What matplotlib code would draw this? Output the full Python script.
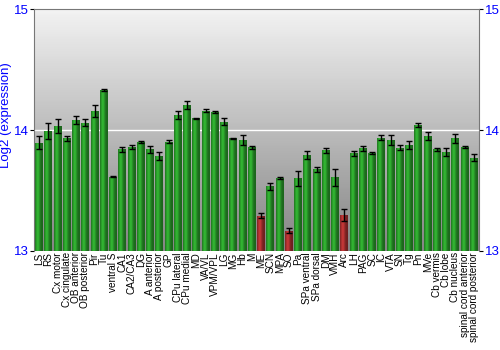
import matplotlib
matplotlib.use("Agg")
import matplotlib.pyplot as plt
import numpy as np

plt.rcParams['font.family'] = ['Liberation Sans', 'DejaVu Sans']

# regions
labels = ['LS', 'RS', 'Cx motor', 'Cx cingulate', 'OB anterior', 'OB posterior', 'Pir', 'Tu',
          'ventral S', 'CA1', 'CA2/CA3', 'DG', 'A anterior', 'A posterior', 'GP', 'CPu lateral',
          'CPu medial', 'MD', 'VA/VL', 'VPM/VPL', 'LG', 'MG', 'Hb', 'M', 'ME', 'SCN', 'MPA', 'SO',
          'Pa', 'SPa ventral', 'SPa dorsal', 'DM', 'VMH', 'Arc', 'LH', 'PAG', 'SC', 'IC', 'VTA',
          'SN', 'Tg', 'Pn', 'MVe', 'Cb vermis', 'Cb lobe', 'Cb nucleus', 'spinal cord anterior',
          'spinal cord posterior']

values = [13.895, 13.99, 14.033, 13.93, 14.083, 14.06, 14.157, 14.33,
          13.613, 13.84, 13.86, 13.90, 13.84, 13.785, 13.905, 14.124,
          14.207, 14.097, 14.16, 14.15, 14.07, 13.93, 13.917, 13.857, 13.29, 13.536, 13.602, 13.166,
          13.60, 13.793, 13.675, 13.834, 13.608, 13.30, 13.807, 13.85, 13.81, 13.937, 13.917,
          13.853, 13.876, 14.04, 13.95, 13.84, 13.818, 13.93, 13.862,
          13.77]

errors = [0.055, 0.066, 0.06, 0.02, 0.03, 0.03, 0.05, 0.01,
          0.005, 0.02, 0.015, 0.01, 0.03, 0.03, 0.01, 0.03,
          0.03, 0.005, 0.01, 0.01, 0.03, 0.005, 0.04, 0.01, 0.02, 0.03, 0.01, 0.02,
          0.06, 0.03, 0.02, 0.02, 0.07, 0.05, 0.02, 0.02, 0.01, 0.02, 0.04,
          0.02, 0.03, 0.015, 0.03, 0.01, 0.03, 0.04, 0.01,
          0.03]

red_regions = ['ME', 'SO', 'Arc']

fig = plt.figure(figsize=(5, 3.5), dpi=100)
ax = fig.add_axes([0.068, 0.283, 0.89, 0.691])

x = np.arange(len(labels))
bars = ax.bar(x, np.array(values) - 13, bottom=13, width=0.86, color='#2a9a2a', zorder=2)

# horizontal shading on every bar
prof = np.linspace(0, 1, 40)
shade = 0.55 + 0.45 * np.exp(-((prof - 0.35) / 0.28) ** 2)
green = np.array([0.20, 0.72, 0.20])
red = np.array([0.78, 0.22, 0.22])
for b, lab in zip(bars, labels):
    base = red if lab in red_regions else green
    img = np.clip(shade[None, :, None] * base[None, None, :], 0, 1)
    bx, bw = b.get_x(), b.get_width()
    im = ax.imshow(img, extent=[bx, bx + bw, 13, b.get_y() + b.get_height()],
                   aspect='auto', zorder=2, interpolation='bilinear')
    im.set_clip_path(b)

ax.errorbar(x, values, yerr=errors, fmt='none', ecolor='black', elinewidth=1,
            capsize=2, capthick=1, zorder=3)

# grey background gradient
bg = np.linspace(0.52, 0.95, 100)[:, None]
ax.imshow(bg, extent=[0, 1, 0, 1], transform=ax.transAxes, cmap='gray', vmin=0, vmax=1,
          aspect='auto', origin='lower', zorder=0)
ax.axhline(14, color='white', lw=1, zorder=1)

ax.set_xlim(-0.55, len(labels) - 0.45)
ax.set_ylim(13, 15)
ax.set_yticks([13, 14, 15])
ax.tick_params(axis='y', colors='black', labelcolor='blue', labelsize=9.5, length=3, pad=1,
               left=True, right=True, labelleft=True, labelright=True)
ax.set_xticks(x)
ax.set_xticklabels(labels, rotation=90, fontsize=7.2)
ax.tick_params(axis='x', length=0, pad=1)
ax.set_ylabel('Log2 (expression)', color='blue', fontsize=9.5)
ax.yaxis.set_label_coords(-0.05, 0.56)
for s in ['left', 'right', 'top']:
    ax.spines[s].set_color('#777777')
ax.spines['bottom'].set_visible(False)

fig.savefig('out.png', dpi=100)
